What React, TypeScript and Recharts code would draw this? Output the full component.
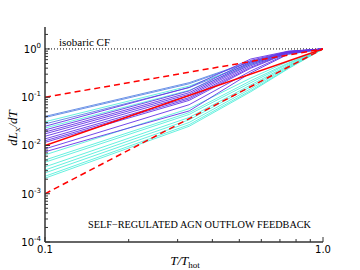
import { LineChart, Line, XAxis, YAxis } from 'recharts';

// sampling temperatures (T / T_hot)
const T_POINTS = [0.1, 0.33, 0.55, 0.75, 1.0];

// dL_x/dT for each run, read at T_POINTS
const blueLines = [
  [0.04, 0.2, 0.55, 0.87, 1],
  [0.038, 0.19, 0.54, 0.86, 1],
  [0.028, 0.158, 0.51, 0.81, 1],
];
const violetLines = [
  [0.025, 0.16, 0.62, 0.9, 1],
  [0.021, 0.135, 0.58, 0.89, 1],
  [0.019, 0.124, 0.54, 0.88, 1],
  [0.0174, 0.115, 0.51, 0.87, 1],
  [0.0155, 0.107, 0.48, 0.86, 1],
  [0.0137, 0.098, 0.45, 0.85, 1],
  [0.0125, 0.092, 0.42, 0.84, 1],
  [0.0116, 0.086, 0.4, 0.83, 1],
  [0.0085, 0.07, 0.35, 0.8, 1],
  [0.0074, 0.052, 0.32, 0.78, 1],
];
const cyanLines = [
  [0.031, 0.17, 0.5, 0.84, 1],
  [0.023, 0.139, 0.47, 0.77, 1],
  [0.0064, 0.058, 0.25, 0.55, 1],
  [0.005, 0.048, 0.22, 0.51, 1],
  [0.0045, 0.044, 0.2, 0.49, 1],
  [0.0036, 0.038, 0.18, 0.46, 1],
  [0.0031, 0.034, 0.165, 0.44, 1],
  [0.0027, 0.03, 0.15, 0.42, 1],
  [0.0023, 0.027, 0.138, 0.4, 1],
  [0.0021, 0.025, 0.13, 0.39, 1],
];

// reference power laws, at T = 0.1 and 1
const REF_T = [0.1, 1.0];
const isobaric = [1, 1];
const slopeOne = [0.1, 1];
const slopeTwo = [0.01, 1];
const slopeThree = [0.001, 1];

const X_MAJOR = [0.1, 1.0];
const X_TICKS = [0.1, 0.2, 0.3, 0.4, 0.5, 0.6, 0.7, 0.8, 0.9, 1.0];
const Y_MAJOR = [1e-4, 1e-3, 1e-2, 1e-1, 1];
const Y_TICKS = [
  ...Y_MAJOR,
  ...[1e-4, 1e-3, 1e-2, 1e-1].flatMap((d) => [2, 3, 4, 5, 6, 7, 8, 9].map((m) => m * d)),
  2,
];

const toPoints = (xs: number[], ys: number[]) => xs.map((x, i) => ({ x, y: ys[i] }));

const isMajor = (v: number, list: number[]) => list.some((m) => Math.abs(v / m - 1) < 1e-6);

const AXIS = '#333';
const SANS = 'DejaVu Sans';
const SERIF = 'Liberation Serif';

const BottomTick = ({ x, y, payload }: any) => {
  const major = isMajor(payload.value, X_MAJOR);
  return (
    <g>
      <line x1={x} x2={x} y1={y} y2={y - (major ? 5 : 3)} stroke={AXIS} />
      {major && (
        <text x={x} y={y + 11} textAnchor="middle" fontSize={10} fontFamily={SANS} fill="#000">
          {payload.value.toFixed(1)}
        </text>
      )}
    </g>
  );
};

const TopTick = ({ x, y, payload }: any) => {
  const major = isMajor(payload.value, X_MAJOR);
  return <line x1={x} x2={x} y1={y} y2={y + (major ? 5 : 3)} stroke={AXIS} />;
};

const LeftTick = ({ x, y, payload }: any) => {
  const major = isMajor(payload.value, Y_MAJOR);
  const exp = Math.round(Math.log10(payload.value));
  return (
    <g>
      <line x1={x} x2={x + (major ? 5 : 3)} y1={y} y2={y} stroke={AXIS} />
      {major && (
        <text x={x - 4} y={y + 4} textAnchor="end" fontSize={10} fontFamily={SANS} fill="#000">
          <tspan>10</tspan>
          <tspan dy={-5} fontSize={7}>
            {exp}
          </tspan>
        </text>
      )}
    </g>
  );
};

const RightTick = ({ x, y, payload }: any) => {
  const major = isMajor(payload.value, Y_MAJOR);
  return <line x1={x} x2={x - (major ? 5 : 3)} y1={y} y2={y} stroke={AXIS} />;
};

const runLine = (rows: number[][], color: string, key: string) =>
  rows.map((row, i) => (
    <Line
      key={`${key}-${i}`}
      data={toPoints(T_POINTS, row)}
      dataKey="y"
      xAxisId="b"
      yAxisId="l"
      stroke={color}
      strokeWidth={0.9}
      dot={false}
      isAnimationActive={false}
    />
  ));

export default function App() {
  return (
    <div style={{ position: 'absolute', left: 0, top: 0, width: 360, height: 270, background: '#fff' }}>
      <LineChart width={360} height={270} margin={{ top: 27, right: 37, bottom: 0, left: 0 }}>
        <XAxis
          xAxisId="b"
          dataKey="x"
          type="number"
          scale="log"
          domain={[0.1, 1]}
          allowDataOverflow
          ticks={X_TICKS}
          interval={0}
          height={28}
          tickSize={0}
          tickMargin={0}
          tickLine={false}
          tick={<BottomTick />}
          axisLine={{ stroke: AXIS, strokeWidth: 1.5 }}
        />
        <XAxis
          xAxisId="t"
          orientation="top"
          dataKey="x"
          type="number"
          scale="log"
          domain={[0.1, 1]}
          allowDataOverflow
          ticks={X_TICKS}
          interval={0}
          height={0}
          tickSize={0}
          tickMargin={0}
          tickLine={false}
          tick={<TopTick />}
          axisLine={{ stroke: AXIS, strokeWidth: 1.5 }}
        />
        <YAxis
          yAxisId="l"
          type="number"
          scale="log"
          domain={[1e-4, 2.85]}
          allowDataOverflow
          ticks={Y_TICKS}
          interval={0}
          width={45}
          tickSize={0}
          tickMargin={0}
          tickLine={false}
          tick={<LeftTick />}
          axisLine={{ stroke: AXIS, strokeWidth: 1.5 }}
        />
        <YAxis
          yAxisId="r"
          orientation="right"
          type="number"
          scale="log"
          domain={[1e-4, 2.85]}
          allowDataOverflow
          ticks={Y_TICKS}
          interval={0}
          width={0}
          tickSize={0}
          tickMargin={0}
          tickLine={false}
          tick={<RightTick />}
          axisLine={{ stroke: AXIS, strokeWidth: 1.5 }}
        />

        <Line
          data={toPoints(REF_T, isobaric)}
          dataKey="y"
          xAxisId="b"
          yAxisId="l"
          stroke="#000"
          strokeWidth={1}
          strokeDasharray="1 2"
          dot={false}
          isAnimationActive={false}
        />
        {runLine(blueLines, '#5a86e4', 'blue')}
        {runLine(cyanLines, '#55eedb', 'cyan')}
        {runLine(violetLines, '#6434e6', 'violet')}
        <Line
          data={toPoints(REF_T, slopeTwo)}
          dataKey="y"
          xAxisId="b"
          yAxisId="l"
          stroke="#ff0000"
          strokeWidth={1.5}
          dot={false}
          isAnimationActive={false}
        />
        <Line
          data={toPoints(REF_T, slopeOne)}
          dataKey="y"
          xAxisId="b"
          yAxisId="l"
          stroke="#ff0000"
          strokeWidth={1.5}
          strokeDasharray="6 4"
          dot={false}
          isAnimationActive={false}
        />
        <Line
          data={toPoints(REF_T, slopeThree)}
          dataKey="y"
          xAxisId="b"
          yAxisId="l"
          stroke="#ff0000"
          strokeWidth={1.5}
          strokeDasharray="6 4"
          dot={false}
          isAnimationActive={false}
        />

        <text x={59} y={46} fontSize={11} fontFamily={SERIF} fill="#000">
          isobaric CF
        </text>
        <text
          x={88}
          y={228}
          fontSize={10}
          fontFamily={SERIF}
          fill="#000"
          textLength={223}
          lengthAdjust="spacingAndGlyphs"
        >
          SELF−REGULATED AGN OUTFLOW FEEDBACK
        </text>
        <text
          x={17}
          y={128}
          transform="rotate(-90 17 128)"
          textAnchor="middle"
          fontSize={13}
          fontFamily={SERIF}
          fontStyle="italic"
          fill="#000"
        >
          dL
          <tspan dy={3} fontSize={9} fontStyle="normal">
            x
          </tspan>
          <tspan dy={-3}>/dT</tspan>
        </text>
        <text
          x={185}
          y={265}
          textAnchor="middle"
          fontSize={13}
          fontFamily={SERIF}
          fontStyle="italic"
          fill="#000"
        >
          T/T
          <tspan dy={3} fontSize={9} fontStyle="normal">
            hot
          </tspan>
        </text>
      </LineChart>
    </div>
  );
}
